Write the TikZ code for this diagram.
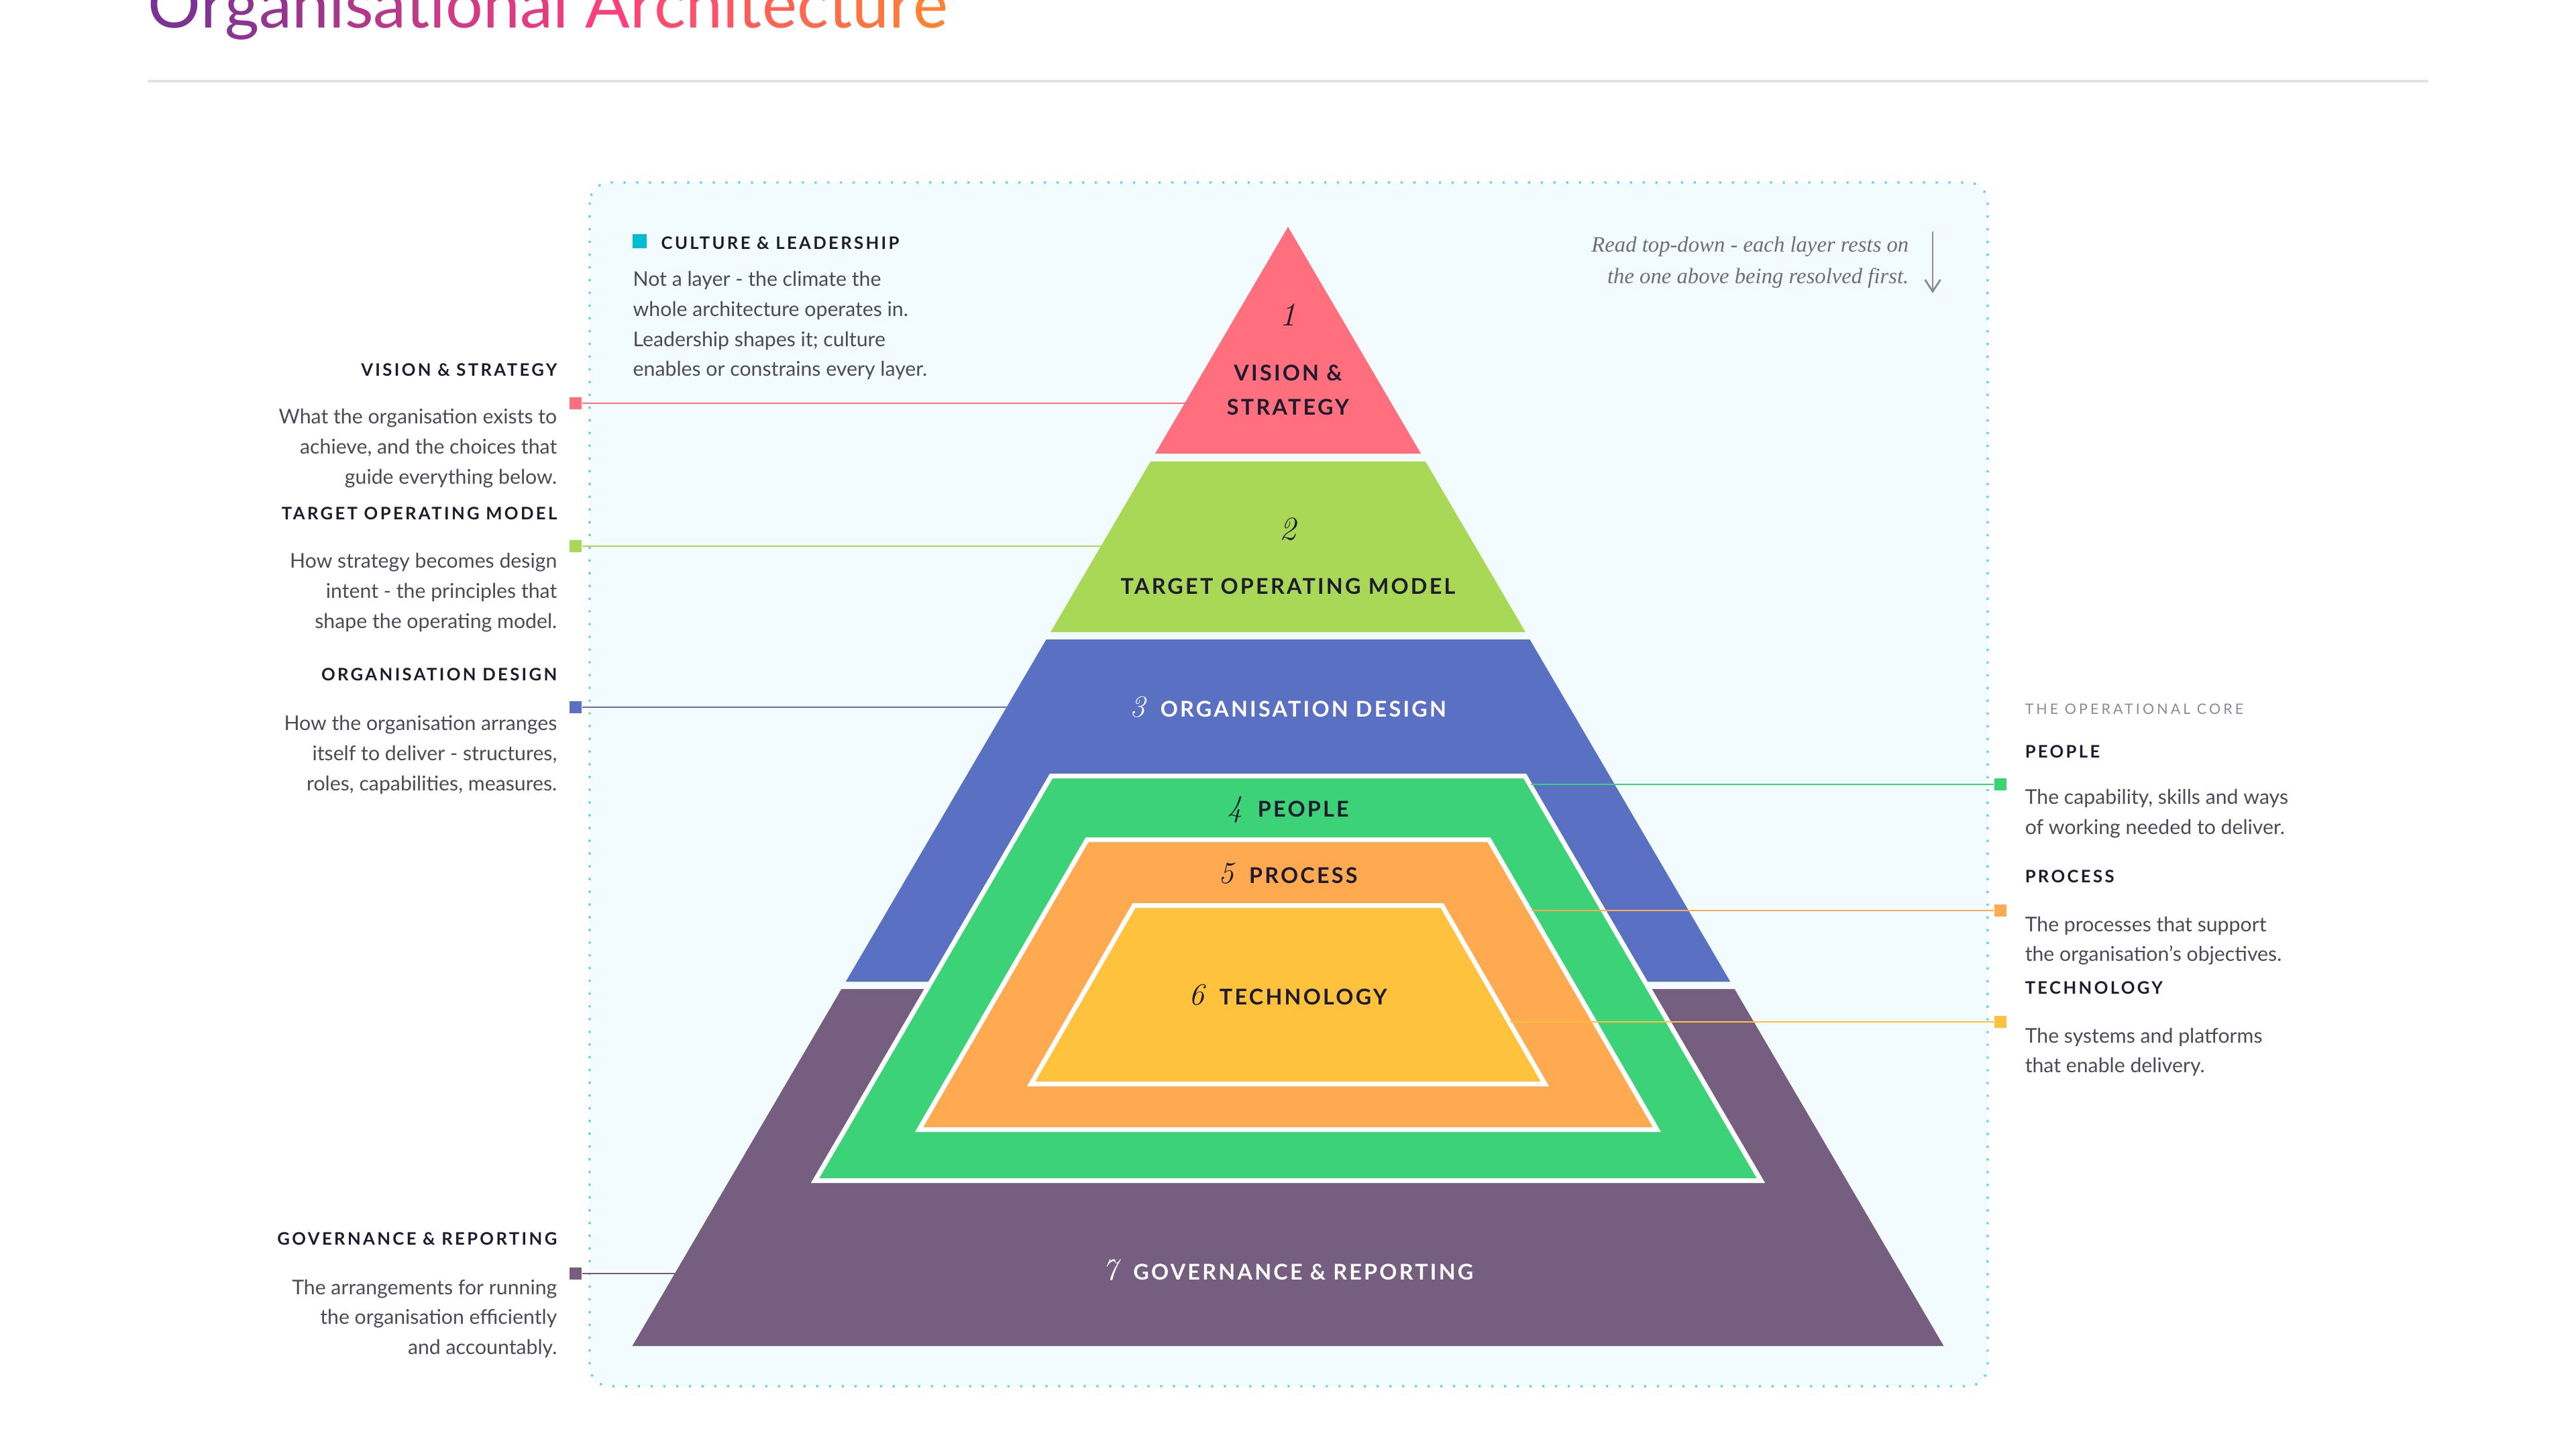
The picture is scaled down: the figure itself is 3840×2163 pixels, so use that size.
\documentclass[tikz,border=0pt]{standalone}
\usepackage{fontspec}
\setsansfont{Lato}
\newfontfamily\headfont{Lato}[LetterSpace=13]
\newfontfamily\layerfont{Lato}[LetterSpace=10]
\newfontfamily\corefont{Lato}[LetterSpace=19]
\newfontfamily\notefont{Liberation Serif}
\usetikzlibrary{arrows.meta}

\definecolor{vision}{HTML}{FF6F7D}
\definecolor{tom}{HTML}{A8D856}
\definecolor{orgdesign}{HTML}{5A70C3}
\definecolor{people}{HTML}{3CD278}
\definecolor{process}{HTML}{FFAA50}
\definecolor{technology}{HTML}{FFC23C}
\definecolor{governance}{HTML}{765E80}
\definecolor{culture}{HTML}{00BCD4}
\definecolor{panelfill}{HTML}{F2FBFD}
\definecolor{paneldots}{HTML}{5CD2E2}
\definecolor{inkdark}{HTML}{1E1B2E}
\definecolor{inkbody}{HTML}{4A4A58}
\definecolor{inkmuted}{HTML}{8A8A96}
\definecolor{inknote}{HTML}{6E6E7A}
\definecolor{rulegray}{HTML}{E3E3E3}
\definecolor{titlepurple}{HTML}{7B3294}
\definecolor{titlepink}{HTML}{FF3F7C}
\definecolor{titleorange}{HTML}{FF8232}

% one band of the big pyramid, cut between two heights
\newcommand{\pyrlayer}[3]{%
  \fill[#1] ({1920-0.586*(#2-338)},#2) -- ({1920+0.586*(#2-338)},#2)
    -- ({1920+0.586*(#3-338)},#3) -- ({1920-0.586*(#3-338)},#3) -- cycle;}
% trapezoid of the operational core, white edged
\newcommand{\corelayer}[5]{%
  \filldraw[fill=#1, draw=white, line width=2pt] ({1920-#3},#2) -- ({1920+#3},#2)
    -- ({1920+#5},#4) -- ({1920-#5},#4) -- cycle;}
\newcommand{\laynum}[1]{{\rmfamily\mdseries\itshape\fontsize{13pt}{13pt}\selectfont #1}\hspace{6.5pt}}

\begin{document}
\begin{tikzpicture}[x=0.01cm,y=-0.01cm,
    panel/.style={fill=panelfill, draw=paneldots, line width=0.9pt, dash pattern=on 0.9pt off 4.5pt, rounded corners=8.5pt},
    layermark/.style={fill=#1, inner sep=0, minimum size=5.2pt},
    leader/.style={draw=#1, line width=0.8pt},
    sidehead/.style={inner sep=0, font=\headfont\bfseries\fontsize{7.3pt}{9pt}\selectfont, text=inkdark},
    sidebody/.style={inner sep=0, font=\sffamily\fontsize{8.6pt}{12.7pt}\selectfont, text=inkbody},
    layerlabel/.style={anchor=base, inner sep=0, font=\layerfont\bfseries\fontsize{9.2pt}{14.5pt}\selectfont, text=inkdark},
    layernum/.style={anchor=base, inner sep=0, font=\rmfamily\itshape\fontsize{14pt}{14pt}\selectfont, text=inkdark}]
    \useasboundingbox (0,0) rectangle (3840,2163);
    \fill[white] (0,0) rectangle (3840,2163);

    % title and rule
    \node[anchor=base west, inner sep=0, font=\sffamily\fontsize{28pt}{31pt}\selectfont] (title) at (220,41) {%
      \foreach \ch [count=\i] in {O,r,g,a,n,i,s,a,t,i,o,n,a,l,\ ,A,r,c,h,i,t,e,c,t,u,r,e}{%
        \ifnum\i<16 \pgfmathtruncatemacro\mixpct{(\i-1)*100/15}\textcolor{titlepink!\mixpct!titlepurple}{\ch}%
        \else \pgfmathtruncatemacro\mixpct{(\i-16)*100/11}\textcolor{titleorange!\mixpct!titlepink}{\ch}\fi}};
    \draw[rulegray, line width=0.9pt] (220,121) -- (3620,121);

    \draw[panel] (879,272) rectangle (2963,2066);

    % markers and leaders on the left
    \node[layermark=vision] (mvision) at (858,601) {};
    \node[layermark=tom] (mtom) at (858,814) {};
    \node[layermark=orgdesign] (morg) at (858,1054) {};
    \node[layermark=governance] (mgov) at (858,1898) {};
    \coordinate (evision) at (1766,601);
    \coordinate (etom) at (1641,814);
    \coordinate (eorg) at (1500,1054);
    \coordinate (egov) at (1006,1898);
    \draw[leader=vision] (mvision) -- (evision);
    \draw[leader=tom] (mtom) -- (etom);
    \draw[leader=orgdesign] (morg) -- (eorg);
    \draw[leader=governance] (mgov) -- (egov);

    % pyramid
    \pyrlayer{vision}{338}{676}
    \pyrlayer{tom}{687.5}{942}
    \pyrlayer{orgdesign}{953}{1463}
    \pyrlayer{governance}{1474}{2006}
    \corelayer{people}{1156.5}{353}{1759.5}{705}
    \corelayer{process}{1251.5}{299.5}{1683.5}{550}
    \corelayer{technology}{1349.5}{229.5}{1615.5}{383}

    % markers and leaders on the right
    \node[layermark=people] (mpeople) at (2982,1169) {};
    \node[layermark=process] (mprocess) at (2982,1357) {};
    \node[layermark=technology] (mtech) at (2982,1523) {};
    \coordinate (speople) at (2282,1169);
    \coordinate (sprocess) at (2283,1357);
    \coordinate (stech) at (2251,1523);
    \draw[leader=people] (speople) -- (mpeople);
    \draw[leader=process] (sprocess) -- (mprocess);
    \draw[leader=technology] (stech) -- (mtech);

    % layer labels
    \node[layernum] (n1) at (1920,485) {1};
    \node[layerlabel, anchor=north, align=center] (l1) at (1920,543) {VISION \&\\STRATEGY};
    \node[layernum] (n2) at (1920,804) {2};
    \node[layerlabel] (l2) at (1920,885) {TARGET OPERATING MODEL};
    \node[layerlabel, text=white] (l3) at (1920,1068) {\laynum{3}ORGANISATION DESIGN};
    \node[layerlabel] (l4) at (1920,1217) {\laynum{4}PEOPLE};
    \node[layerlabel] (l5) at (1920,1316) {\laynum{5}PROCESS};
    \node[layerlabel] (l6) at (1920,1497) {\laynum{6}TECHNOLOGY};
    \node[layerlabel, text=white] (l7) at (1920,1907) {\laynum{7}GOVERNANCE \& REPORTING};

    % culture and leadership
    \node[layermark=culture, minimum size=6pt] (mculture) at (953.5,359.5) {};
    \node[sidehead, anchor=base west] (hculture) at (985,371) {CULTURE \& LEADERSHIP};
    \node[sidebody, anchor=north west, align=left] (dculture) at (943,404) {Not a layer - the climate the\\whole architecture operates in.\\Leadership shapes it; culture\\enables or constrains every layer.};

    % reading note
    \node[anchor=north east, inner sep=0, align=right, font=\notefont\itshape\fontsize{9.3pt}{13.4pt}\selectfont, text=inknote] (readnote) at (2846,352) {Read top-down - each layer rests on\\the one above being resolved first.};
    \coordinate (readtop) at (2881,345);
    \coordinate (readbot) at (2881,437);
    \draw[-{Straight Barb[length=5pt,width=6.5pt]}, inkmuted, line width=0.8pt] (readtop) -- (readbot);

    % left descriptions
    \node[sidehead, anchor=base east] (hvision) at (831,560) {VISION \& STRATEGY};
    \node[sidebody, anchor=north east, align=right] (dvision) at (831,609) {What the organisation exists to\\achieve, and the choices that\\guide everything below.};
    \node[sidehead, anchor=base east] (htom) at (831,774) {TARGET OPERATING MODEL};
    \node[sidebody, anchor=north east, align=right] (dtom) at (831,824) {How strategy becomes design\\intent - the principles that\\shape the operating model.};
    \node[sidehead, anchor=base east] (horg) at (831,1014) {ORGANISATION DESIGN};
    \node[sidebody, anchor=north east, align=right] (dorg) at (831,1066) {How the organisation arranges\\itself to deliver - structures,\\roles, capabilities, measures.};
    \node[sidehead, anchor=base east] (hgov) at (831,1855) {GOVERNANCE \& REPORTING};
    \node[sidebody, anchor=north east, align=right] (dgov) at (831,1906) {The arrangements for running\\the organisation efficiently\\and accountably.};

    % right descriptions
    \node[inner sep=0, anchor=base west, font=\corefont\fontsize{6.1pt}{8pt}\selectfont, text=inkmuted] (hcore) at (3018,1064) {THE OPERATIONAL CORE};
    \node[sidehead, anchor=base west] (hpeople) at (3018,1129) {PEOPLE};
    \node[sidebody, anchor=north west, align=left] (dpeople) at (3018,1176) {The capability, skills and ways\\of working needed to deliver.};
    \node[sidehead, anchor=base west] (hprocess) at (3018,1315) {PROCESS};
    \node[sidebody, anchor=north west, align=left] (dprocess) at (3018,1365) {The processes that support\\the organisation’s objectives.};
    \node[sidehead, anchor=base west] (htech) at (3018,1481) {TECHNOLOGY};
    \node[sidebody, anchor=north west, align=left] (dtech) at (3018,1531) {The systems and platforms\\that enable delivery.};
\end{tikzpicture}
\end{document}
